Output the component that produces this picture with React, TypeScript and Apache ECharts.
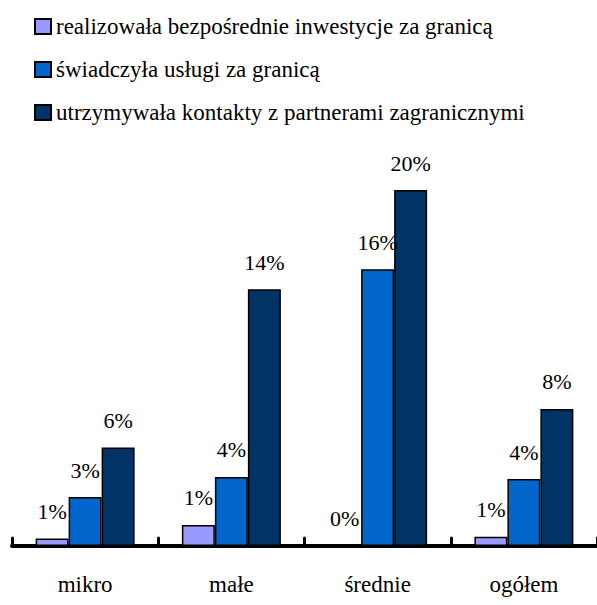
import React, { useEffect, useRef } from "react";
import * as echarts from "echarts";

const categories = ["mikro", "małe", "średnie", "ogółem"];
const seriesNames = [
  "realizowała bezpośrednie inwestycje za granicą",
  "świadczyła usługi za granicą",
  "utrzymywała kontakty z partnerami zagranicznymi",
];
const investValues = [0.42, 1.18, 0, 0.52];
const servicesValues = [2.75, 3.88, 15.55, 3.76];
const contactsValues = [5.54, 14.42, 20, 7.7];
const investLabels = ["1%", "1%", "0%", "1%"];
const servicesLabels = ["3%", "4%", "16%", "4%"];
const contactsLabels = ["6%", "14%", "20%", "8%"];
const colors = ["#9999FF", "#0066CC", "#003366"];

const FONT = "Liberation Serif";

export default function App() {
  const ref = useRef<HTMLDivElement>(null);
  useEffect(() => {
    if (!ref.current) return;
    const chart = echarts.init(ref.current, undefined, { renderer: "svg" });
    const values = [investValues, servicesValues, contactsValues];
    const labels = [investLabels, servicesLabels, contactsLabels];
    chart.setOption({
      animation: false,
      backgroundColor: "#ffffff",
      legend: {
        orient: "vertical",
        left: 29,
        top: 10,
        itemWidth: 16,
        itemHeight: 15,
        itemGap: 20,
        icon: "rect",
        textStyle: { fontFamily: FONT, fontSize: 23, color: "#000", lineHeight: 23 },
        data: seriesNames,
      },
      grid: { left: 12, right: -6, top: 101, bottom: 59, containLabel: false },
      xAxis: {
        type: "category",
        data: categories,
        offset: 2.5,
        axisLine: { show: true, lineStyle: { color: "#000", width: 4 } },
        axisTick: {
          show: true,
          inside: true,
          length: 8,
          alignWithLabel: false,
          lineStyle: { color: "#000", width: 3, cap: "round" },
        },
        axisLabel: { fontFamily: FONT, fontSize: 23, color: "#000", margin: 24 },
        splitLine: { show: false },
      },
      yAxis: {
        type: "value",
        min: 0,
        max: 25,
        show: false,
        splitLine: { show: false },
      },
      series: seriesNames.map((name, i) => ({
        name,
        type: "bar",
        data: values[i],
        barWidth: 33,
        barGap: "0%",
        itemStyle: { color: colors[i], borderColor: "#000", borderWidth: 1.5 },
        label: {
          show: true,
          position: "top",
          distance: 16,
          fontFamily: FONT,
          fontSize: 22,
          color: "#000",
          formatter: (p: any) => labels[i][p.dataIndex],
        },
      })),
    });
    return () => chart.dispose();
  }, []);
  return (
    <div
      ref={ref}
      style={{ position: "fixed", left: 0, top: 0, width: 597, height: 605, background: "#fff" }}
    />
  );
}
